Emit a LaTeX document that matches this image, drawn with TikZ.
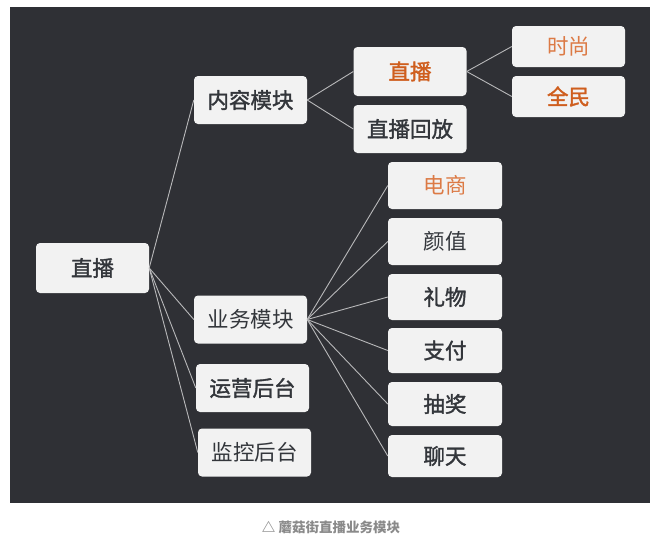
\documentclass[tikz,border=0pt]{standalone}
\usepackage{fontspec}
\setmainfont{Noto Sans CJK SC}
\newfontfamily\medcjk{Noto Sans CJK SC}[FakeBold=1.6]
\definecolor{bg}{HTML}{2F3035}
\definecolor{boxfill}{HTML}{F2F2F2}
\definecolor{txt}{HTML}{33363B}
\definecolor{orn}{HTML}{CF5E1E}
\definecolor{ornl}{HTML}{DC7A45}
\definecolor{linec}{HTML}{B8B8BA}
\definecolor{cap}{HTML}{8A8A8A}
\begin{document}
\begin{tikzpicture}[x=1pt,y=-1pt,
  box/.style={fill=boxfill, rounded corners=4pt, minimum width=113pt, minimum height=48pt, inner sep=0pt, font=\fontsize{21.5}{24}\selectfont, text=txt},
  hl/.style={text=orn, font=\fontsize{21.5}{24}\selectfont\medcjk},
  hll/.style={text=ornl},
  bd/.style={font=\fontsize{21.5}{24}\selectfont\medcjk},
  link/.style={draw=linec, line width=0.9pt}]
\useasboundingbox (0,0) rectangle (659,549);
\fill[white] (0,0) rectangle (659,549);
\fill[bg] (10,7) rectangle (650,503);

\node[box, bd, minimum height=50pt] (root) at (92.5,268) {直播};
\node[box, bd] (content) at (250.5,100) {内容模块};
\node[box] (biz) at (250.5,319.5) {业务模块};
\node[box, bd] (ops) at (252.5,388) {运营后台};
\node[box] (mon) at (254.5,452.5) {监控后台};

\node[box, hl, minimum height=49pt] (live) at (410,71.5) {直播};
\node[box, bd] (replay) at (410,129) {直播回放};
\node[box, hll, minimum height=41pt] (fashion) at (568.5,46.5) {时尚};
\node[box, hl, minimum height=41pt] (all) at (568.5,96.5) {全民};

\node[box, hll, minimum width=114pt, minimum height=47pt] (ec) at (445,185.5) {电商};
\node[box, minimum width=114pt, minimum height=47pt] (looks) at (445,241.5) {颜值};
\node[box, bd, minimum width=114pt, minimum height=46pt] (gift) at (445,297) {礼物};
\node[box, bd, minimum width=114pt, minimum height=45pt] (pay) at (445,350.5) {支付};
\node[box, bd, minimum width=114pt, minimum height=44pt] (lottery) at (445,404) {抽奖};
\node[box, bd, minimum width=114pt, minimum height=42pt] (chat) at (445,456) {聊天};

\foreach \c in {content,biz,ops,mon} \draw[link] (root.east) -- (\c.west);
\foreach \c in {live,replay} \draw[link] (content.east) -- (\c.west);
\foreach \c in {fashion,all} \draw[link] (live.east) -- (\c.west);
\foreach \c in {ec,looks,gift,pay,lottery,chat} \draw[link] (biz.east) -- (\c.west);

\node[text=cap, font=\fontsize{13.5}{16}\selectfont\bfseries] (caption) at (331,527) {△ 蘑菇街直播业务模块};
\end{tikzpicture}
\end{document}
